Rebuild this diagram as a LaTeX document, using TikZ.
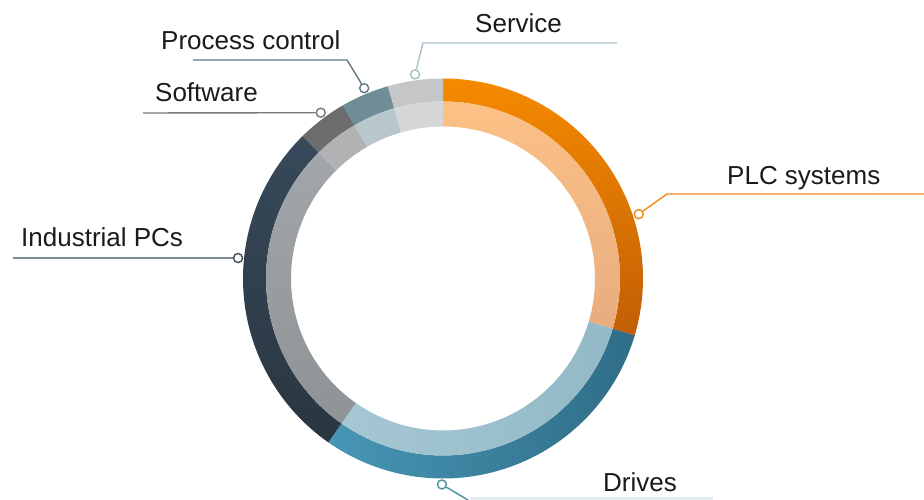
\documentclass[tikz,border=0pt]{standalone}
\usepackage{fontspec}
\setmainfont{Liberation Sans}
\definecolor{plcA}{HTML}{F58A00}
\definecolor{plcB}{HTML}{C25E05}
\definecolor{plcC}{HTML}{FCC186}
\definecolor{plcD}{HTML}{E7AD80}
\definecolor{drvA}{HTML}{4796B5}
\definecolor{drvB}{HTML}{2F6D87}
\definecolor{drvC}{HTML}{A5C7D3}
\definecolor{drvD}{HTML}{93B9C6}
\definecolor{ipcA}{HTML}{37495A}
\definecolor{ipcB}{HTML}{2A3641}
\definecolor{ipcC}{HTML}{A2A6AA}
\definecolor{ipcD}{HTML}{8E9396}
\definecolor{swA}{HTML}{6D6D6F}
\definecolor{swC}{HTML}{B1B2B3}
\definecolor{pcA}{HTML}{6F8D97}
\definecolor{pcC}{HTML}{B7C7CC}
\definecolor{svA}{HTML}{C4C6C8}
\definecolor{svC}{HTML}{D5D6D8}
\definecolor{lnSv}{HTML}{A9C2CA}
\definecolor{lnPc}{HTML}{5F7A85}
\definecolor{lnSw}{HTML}{777777}
\definecolor{lnIpc}{HTML}{3E4D58}
\definecolor{lnPlc}{HTML}{F0891A}
\definecolor{lnDrv}{HTML}{4F8FA6}
\definecolor{lnBand}{HTML}{E2EDF0}
\definecolor{txt}{HTML}{1A1A1A}
\newcommand\annseg[4]{(#1:#3) arc[start angle=#1,end angle=#2,radius=#3] -- (#2:#4) arc[start angle=#2,end angle=#1,radius=#4] -- cycle}
\begin{document}
\begin{tikzpicture}[x=1pt,y=1pt,
  label/.style={anchor=base west,inner sep=0pt,text=txt,font=\fontsize{26}{30}\selectfont},
  dot/.style={circle,draw=#1,fill=white,line width=1.4pt,minimum size=9pt,inner sep=0pt},
  leader/.style={draw=#1,line width=1.4pt}]
\useasboundingbox (0,0) rectangle (924,500);
\begin{scope}[shift={(443,221.5)}]
  % PLC systems
  \shade[top color=plcA,bottom color=plcB] \annseg{90}{-16.5}{200}{177};
  \shade[top color=plcC,bottom color=plcD] \annseg{90}{-16.5}{177}{152};
  % Drives
  \shade[left color=drvA,right color=drvB] \annseg{-16.5}{-125}{200}{177};
  \shade[left color=drvC,right color=drvD] \annseg{-16.5}{-125}{177}{152};
  % Industrial PCs
  \shade[top color=ipcA,bottom color=ipcB] \annseg{235}{134.6}{200}{177};
  \shade[top color=ipcC,bottom color=ipcD] \annseg{235}{134.6}{177}{152};
  % Software
  \fill[swA] \annseg{134.6}{120}{200}{177};
  \fill[swC] \annseg{134.6}{120}{177}{152};
  % Process control
  \fill[pcA] \annseg{120}{106}{200}{177};
  \fill[pcC] \annseg{120}{106}{177}{152};
  % Service
  \fill[svA] \annseg{106}{90}{200}{177};
  \fill[svC] \annseg{106}{90}{177}{152};
  % markers
  \node[dot=lnPlc] (pPlc) at (18.2:206) {};
  \node[dot=lnDrv] (pDrv) at (-90.3:206) {};
  \node[dot=lnIpc] (pIpc) at (174.3:206) {};
  \node[dot=lnSw] (pSw) at (126.4:206) {};
  \node[dot=lnPc] (pPc) at (112.5:206) {};
  \node[dot=lnSv] (pSv) at (97.8:206) {};
\end{scope}
% bends and ends
\coordinate (bSv) at (423,457);
\coordinate (eSv) at (617,457);
\coordinate (bPc) at (347,440);
\coordinate (ePc) at (193,440);
\coordinate (eSw) at (143,387);
\coordinate (eIpc) at (13,242);
\coordinate (bPlc) at (667,306);
\coordinate (ePlc) at (924,306);
\coordinate (bDrv) at (468,0);
\coordinate (sDrv) at (470,1.5);
\coordinate (eDrv) at (713,1.5);
\draw[leader=lnSv] (pSv) -- (bSv) -- (eSv);
\draw[leader=lnPc] (pPc) -- (bPc) -- (ePc);
\draw[leader=lnSw] (pSw) -- (eSw);
\draw[leader=lnIpc] (pIpc) -- (eIpc);
\draw[leader=lnPlc] (pPlc) -- (bPlc) -- (ePlc);
\draw[leader=lnDrv] (pDrv) -- (bDrv);
\draw[draw=lnBand,line width=3pt] (sDrv) -- (eDrv);
% labels
\node[label] (tSv) at (475,467) {Service};
\node[label] (tPc) at (161,450) {Process control};
\node[label] (tSw) at (155,398) {Software};
\node[label] (tIpc) at (21,253) {Industrial PCs};
\node[label] (tPlc) at (727,315) {PLC systems};
\node[label] (tDrv) at (603,8) {Drives};
\end{tikzpicture}
\end{document}
